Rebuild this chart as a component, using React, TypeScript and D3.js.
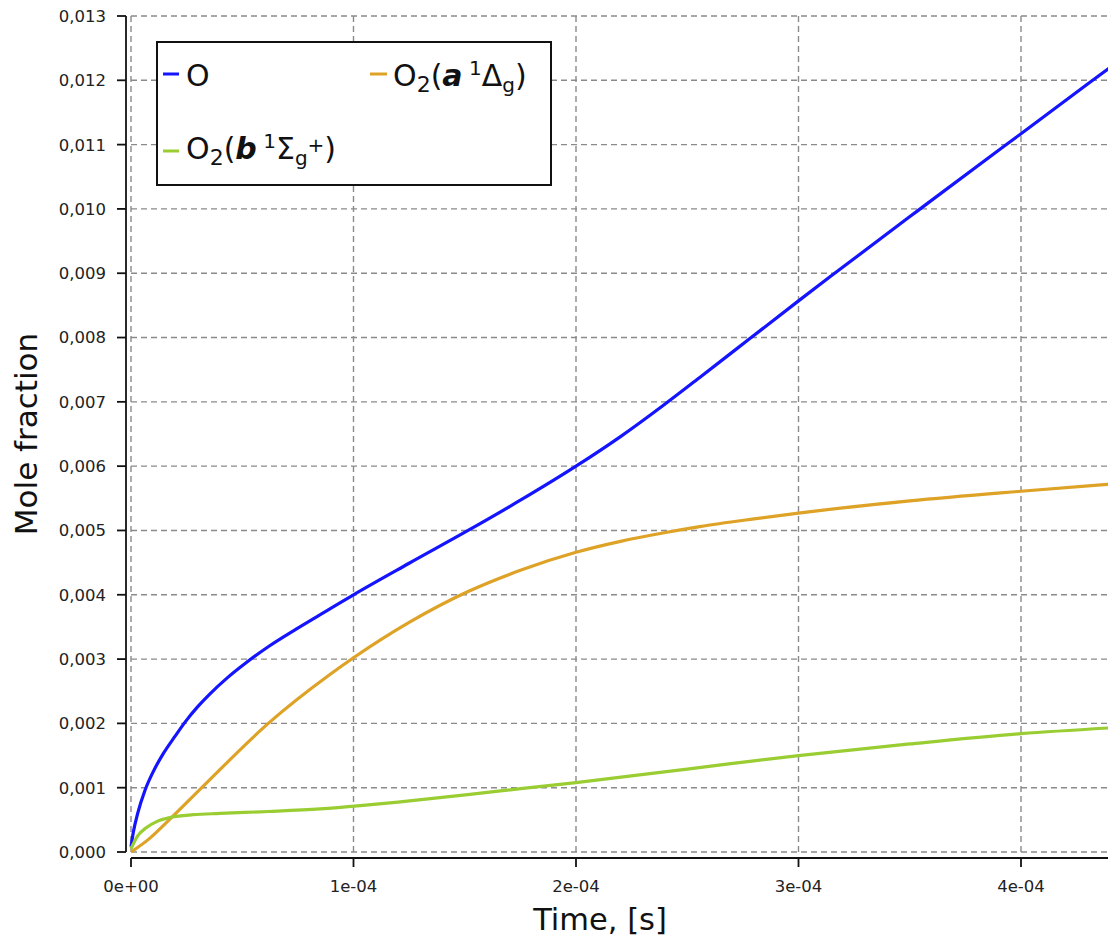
import React from "react";
import * as d3 from "d3";

// Time samples (s) and mole fractions for each species
const timeO = [0, 0.01e-4, 0.03e-4, 0.063e-4, 0.1e-4, 0.145e-4, 0.2e-4, 0.243e-4, 0.3e-4, 0.355e-4, 0.43e-4, 0.52e-4, 0.62e-4, 0.744e-4, 0.879e-4, 1.0e-4, 1.25e-4, 1.515e-4, 1.75e-4, 2.0e-4, 2.2e-4, 2.39e-4, 2.556e-4, 2.78e-4, 3.0e-4, 3.14e-4, 3.535e-4, 3.91e-4, 4.0e-4, 4.31e-4, 4.4e-4];
const valO = [0.00008, 0.0003, 0.0006, 0.00096, 0.00125, 0.00153, 0.00181, 0.00202, 0.00226, 0.00246, 0.0027, 0.00295, 0.0032, 0.00347, 0.00375, 0.004, 0.00449, 0.005, 0.00547, 0.006, 0.00646, 0.00694, 0.00738, 0.00798, 0.00857, 0.00894, 0.00997, 0.01094, 0.01117, 0.01197, 0.0122];

const timeA = [0, 0.08e-4, 0.16e-4, 0.318e-4, 0.617e-4, 0.894e-4, 1.0e-4, 1.25e-4, 1.515e-4, 1.75e-4, 2.0e-4, 2.2e-4, 2.39e-4, 2.556e-4, 2.8e-4, 3.0e-4, 3.5e-4, 4.0e-4, 4.4e-4];
const valA = [0, 0.0002, 0.00046, 0.001, 0.002, 0.00276, 0.00302, 0.00357, 0.00405, 0.00438, 0.00466, 0.00483, 0.00496, 0.00506, 0.00518, 0.00527, 0.00546, 0.00561, 0.00572];

const timeB = [0, 0.03e-4, 0.07e-4, 0.12e-4, 0.18e-4, 0.28e-4, 0.4e-4, 0.62e-4, 0.85e-4, 1.03e-4, 1.21e-4, 1.66e-4, 2.0e-4, 2.5e-4, 3.0e-4, 3.5e-4, 4.0e-4, 4.4e-4];
const valB = [0.00005, 0.00025, 0.00038, 0.00048, 0.00054, 0.00058, 0.0006, 0.00063, 0.00067, 0.00072, 0.00078, 0.00095, 0.00108, 0.00129, 0.0015, 0.00168, 0.00184, 0.00193];

const xTicks = [0, 1e-4, 2e-4, 3e-4, 4e-4];
const xTickLabels = ["0e+00", "1e-04", "2e-04", "3e-04", "4e-04"];
const yTicks = d3.range(0, 14).map((i) => i * 0.001);

const seriesColors = ["#1414ff", "#dea226", "#9acd32"];

const W = 1108;
const H = 942;
const FONT = "DejaVu Sans";

export default function App() {
  const x = d3.scaleLinear().domain([0, 4.4e-4]).range([131, 1110]);
  const y = d3.scaleLinear().domain([0, 0.013]).range([852, 16]);

  const line = d3
    .line<[number, number]>()
    .x((d) => x(d[0]))
    .y((d) => y(d[1]))
    .curve(d3.curveMonotoneX);

  const series = [
    { t: timeO, v: valO, color: seriesColors[0] },
    { t: timeA, v: valA, color: seriesColors[1] },
    { t: timeB, v: valB, color: seriesColors[2] },
  ];

  const fmtY = (v: number) => v.toFixed(3).replace(".", ",");

  return (
    <svg
      width={W}
      height={H}
      style={{ position: "absolute", left: 0, top: 0, background: "#fff" }}
      fontFamily={FONT}
    >
      <defs>
        <clipPath id="plotClip">
          <rect x={120} y={0} width={W - 120} height={853} />
        </clipPath>
      </defs>
      <rect x={0} y={0} width={W} height={H} fill="#fff" />

      {/* grid */}
      <g stroke="#8a8a8a" strokeWidth={1.4} strokeDasharray="6,4" fill="none">
        {yTicks.map((v) => (
          <line key={"gy" + v} x1={x(0)} x2={W} y1={y(v)} y2={y(v)} />
        ))}
        {xTicks.map((t) => (
          <line key={"gx" + t} x1={x(t)} x2={x(t)} y1={y(0.013)} y2={y(0)} />
        ))}
      </g>

      {/* curves */}
      <g clipPath="url(#plotClip)" fill="none" strokeWidth={3.2} strokeLinejoin="round">
        {series.map((s, i) => (
          <path
            key={i}
            d={line(s.t.map((t, j) => [t, s.v[j]] as [number, number])) || ""}
            stroke={s.color}
          />
        ))}
      </g>

      {/* y axis */}
      <g stroke="#111" strokeWidth={1.8}>
        <line x1={126} x2={126} y1={y(0.013)} y2={y(0)} />
        {yTicks.map((v) => (
          <line key={"ty" + v} x1={117} x2={126} y1={y(v)} y2={y(v)} />
        ))}
      </g>
      <g fontSize={16.5} fill="#222" textAnchor="end">
        {yTicks.map((v) => (
          <text key={"ly" + v} x={106} y={y(v)} dy="0.36em">
            {fmtY(v)}
          </text>
        ))}
      </g>

      {/* x axis */}
      <g stroke="#111" strokeWidth={1.8}>
        <line x1={x(0)} x2={W} y1={858} y2={858} />
        {xTicks.map((t) => (
          <line key={"tx" + t} x1={x(t)} x2={x(t)} y1={858} y2={867} />
        ))}
      </g>
      <g fontSize={16.5} fill="#222" textAnchor="middle">
        {xTicks.map((t, i) => (
          <text key={"lx" + t} x={x(t)} y={886} dy="0.36em">
            {xTickLabels[i]}
          </text>
        ))}
      </g>

      {/* axis titles */}
      <text x={600} y={930} fontSize={30.5} textAnchor="middle" fill="#111">
        Time, [s]
      </text>
      <text
        transform="translate(37,434) rotate(-90)"
        fontSize={31}
        textAnchor="middle"
        fill="#111"
      >
        Mole fraction
      </text>

      {/* legend */}
      <rect x={157} y={42} width={394} height={143} fill="#fff" stroke="#111" strokeWidth={2} />
      <g strokeWidth={3}>
        <line x1={163} x2={179} y1={74} y2={74} stroke={seriesColors[0]} />
        <line x1={370} x2={387} y1={74} y2={74} stroke={seriesColors[1]} />
        <line x1={163} x2={179} y1={151} y2={151} stroke={seriesColors[2]} />
      </g>
      <g fill="#111" fontSize={30}>
        <text x={186} y={86}>O</text>
        <text x={393} y={86}>
          O
          <tspan fontSize={22} dy={6}>2</tspan>
          <tspan dy={-6}>(</tspan>
          <tspan fontWeight="bold" fontStyle="italic">a</tspan>
          <tspan fontSize={20} dy={-11}> 1</tspan>
          <tspan dy={11}>Δ</tspan>
          <tspan fontSize={20} dy={6}>g</tspan>
          <tspan dy={-6}>)</tspan>
        </text>
        <text x={186} y={159}>
          O
          <tspan fontSize={22} dy={6}>2</tspan>
          <tspan dy={-6}>(</tspan>
          <tspan fontWeight="bold" fontStyle="italic">b</tspan>
          <tspan fontSize={20} dy={-11}> 1</tspan>
          <tspan dy={11}>Σ</tspan>
          <tspan fontSize={20} dy={6}>g</tspan>
          <tspan fontSize={20} dy={-13}>+</tspan>
          <tspan dy={7}>)</tspan>
        </text>
      </g>
    </svg>
  );
}
